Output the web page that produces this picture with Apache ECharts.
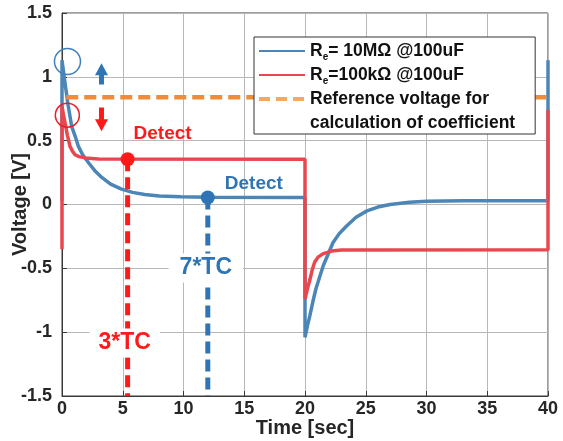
<!DOCTYPE html>
<html>
<head>
<meta charset="utf-8">
<script src="https://cdn.jsdelivr.net/npm/echarts@6/dist/echarts.min.js"></script>
<style>
  html, body { margin: 0; padding: 0; background: #fff; }
  #chart { width: 563px; height: 441px; }
</style>
</head>
<body>
<div id="chart"></div>
<script>
// Re = 10MΩ curve (time in sec, voltage in V)
const blueTime = [0, 0, 0.25, 0.5, 0.8, 1.1, 1.35, 1.7, 2.2, 2.7, 3.3, 4, 4.9, 5.8, 6.8, 8, 9.8, 12, 20,
  20, 20.2, 20.4, 20.65, 20.9, 21.2, 21.5, 21.9, 22.3, 22.8, 23.4, 24.2, 25.1, 26, 27, 28.6, 30, 33, 40, 40]
const blueVolt = [0.03, 1.13, 0.95, 0.78, 0.61, 0.53, 0.455, 0.39, 0.325, 0.265, 0.21, 0.16, 0.12, 0.095, 0.078, 0.066, 0.06, 0.056, 0.055,
  -1.04, -0.95, -0.87, -0.76, -0.66, -0.57, -0.48, -0.39, -0.3, -0.23, -0.17, -0.1, -0.05, -0.02, 0.0, 0.018, 0.025, 0.03, 0.03, 1.13]

// Re = 100kΩ curve
const redTime = [0, 0, 0.12, 0.25, 0.45, 0.66, 0.85, 1.07, 1.4, 1.9, 3, 20,
  20, 20.1, 20.2, 20.4, 20.6, 20.8, 21.1, 21.5, 22.2, 23, 40, 40]
const redVolt = [-0.35, 0.77, 0.7, 0.64, 0.54, 0.455, 0.42, 0.39, 0.375, 0.365, 0.357, 0.355,
  -0.74, -0.7, -0.66, -0.59, -0.51, -0.45, -0.41, -0.385, -0.365, -0.357, -0.355, 0.74]

// reference voltage line
const refTime = [0.35, 39.9]
const refVolt = [0.84, 0.84]

// detect points
const redDetect = [5.4, 0.355]
const blueDetect = [12.0, 0.055]
const redTcLabel = [5.4, -1.07]
const blueTcLabel = [12.0, -0.49]

// circles and arrows
const blueCircle = [0.45, 1.12]
const redCircle = [0.44, 0.70]
const upArrow = [[3.25, 0.94], [3.25, 1.06]]
const downArrow = [[3.25, 0.76], [3.25, 0.62]]

const xTicks = { min: 0, max: 40, interval: 5 }
const yTicks = { min: -1.5, max: 1.5, interval: 0.5 }

const zip = (a, b) => a.map((v, i) => [v, b[i]])

const FONT = '"Liberation Sans", Arial, sans-serif'
const BLUE = '#4b86b7'
const RED = '#e8474f'
const DBLUE = '#2f74b5'
const DRED = '#ff1a1a'
const ORANGE = '#f08c35'

const names = {
  blue: 'Re= 10MΩ @100uF',
  red: 'Re=100kΩ @100uF',
  ref: 'Reference voltage for',
  ref2: 'calculation of coefficient',
}

const chart = echarts.init(document.getElementById('chart'))

const option = {
  animation: false,
  backgroundColor: '#fff',
  grid: {
    left: 62,
    right: 15,
    top: 13,
    bottom: 45,
    containLabel: false,
    outerBoundsMode: 'none',
    show: true,
    borderColor: '#3a3a3a',
    borderWidth: 1,
  },
  legend: {
    orient: 'vertical',
    left: 254,
    top: 37,
    padding: [3, 20, 0, 3],
    itemGap: 2,
    itemWidth: 46,
    itemHeight: 14,
    backgroundColor: '#fff',
    borderColor: '#333',
    borderWidth: 1,
    borderRadius: 0,
    itemStyle: { opacity: 0 },
    data: [
      { name: names.blue },
      { name: names.red },
      { name: names.ref, lineStyle: { color: '#f7a85a', type: [11, 6], width: 4 } },
      { name: names.ref2, lineStyle: { opacity: 0 } },
    ],
    formatter: (name) => {
      if (name === names.blue) return '{b|R}{s|e}{b|= 10MΩ @100uF}'
      if (name === names.red) return '{b|R}{s|e}{b|=100kΩ @100uF}'
      return name
    },
    textStyle: {
      fontFamily: FONT,
      fontWeight: 'bold',
      fontSize: 17.5,
      lineHeight: 22,
      color: '#111',
      rich: {
        b: { fontFamily: FONT, fontWeight: 'bold', fontSize: 17.5, color: '#111' },
        s: { fontFamily: FONT, fontWeight: 'bold', fontSize: 10, color: '#111', verticalAlign: 'bottom', padding: [8, 0, 0, 0] },
      },
    },
  },
  xAxis: {
    type: 'value',
    ...xTicks,
    name: 'Time [sec]',
    nameLocation: 'middle',
    nameGap: 22,
    nameMoveOverlap: false,
    nameTextStyle: { fontFamily: FONT, fontWeight: 'bold', fontSize: 20, color: '#262626' },
    axisLine: { onZero: false, lineStyle: { color: '#3a3a3a' } },
    axisTick: { inside: true, length: 5, lineStyle: { color: '#3a3a3a' } },
    axisLabel: { fontFamily: FONT, fontWeight: 'bold', fontSize: 18, color: '#262626', margin: 4 },
    splitLine: { lineStyle: { color: '#b8b8b8', width: 1 } },
  },
  yAxis: {
    type: 'value',
    ...yTicks,
    name: 'Voltage [V]',
    nameLocation: 'middle',
    nameGap: 32,
    nameMoveOverlap: false,
    nameTextStyle: { fontFamily: FONT, fontWeight: 'bold', fontSize: 20, color: '#262626' },
    axisLine: { onZero: false, lineStyle: { color: '#3a3a3a' } },
    axisTick: { inside: true, length: 5, lineStyle: { color: '#3a3a3a' } },
    axisLabel: { fontFamily: FONT, fontWeight: 'bold', fontSize: 18, color: '#262626', margin: 10 },
    splitLine: { lineStyle: { color: '#b8b8b8', width: 1 } },
  },
  series: [
    {
      name: names.blue,
      type: 'line',
      data: zip(blueTime, blueVolt),
      symbol: 'none',
      lineStyle: { color: BLUE, width: 3.5 },
      itemStyle: { color: BLUE },
      z: 2,
    },
    {
      name: names.red,
      type: 'line',
      data: zip(redTime, redVolt),
      symbol: 'none',
      lineStyle: { color: RED, width: 3.5 },
      itemStyle: { color: RED },
      z: 3,
    },
    {
      name: names.ref,
      type: 'line',
      data: zip(refTime, refVolt),
      symbol: 'none',
      lineStyle: { color: ORANGE, width: 4.5, type: [12, 6] },
      itemStyle: { color: ORANGE },
      z: 3,
    },
    // second legend line of the reference entry, draws nothing
    {
      name: names.ref2,
      type: 'line',
      data: [],
      symbol: 'none',
      lineStyle: { opacity: 0 },
    },
    // dashed detect lines
    {
      type: 'line',
      data: [redDetect, [redDetect[0], yTicks.min]],
      symbol: 'none',
      lineStyle: { color: DRED, width: 5, type: [12, 6] },
      z: 4,
    },
    {
      type: 'line',
      data: [blueDetect, [blueDetect[0], yTicks.min]],
      symbol: 'none',
      lineStyle: { color: DBLUE, width: 5, type: [12, 6] },
      z: 4,
    },
    // detect dots
    {
      type: 'scatter',
      data: [redDetect],
      symbolSize: 14,
      itemStyle: { color: DRED, opacity: 1 },
      label: {
        show: true, position: 'inside', offset: [35, -25], formatter: 'Detect',
        fontFamily: FONT, fontWeight: 'bold', fontSize: 19, color: DRED,
      },
      z: 6,
    },
    {
      type: 'scatter',
      data: [blueDetect],
      symbolSize: 14,
      itemStyle: { color: DBLUE, opacity: 1 },
      label: {
        show: true, position: 'inside', offset: [46, -14], formatter: 'Detect',
        fontFamily: FONT, fontWeight: 'bold', fontSize: 19, color: DBLUE,
      },
      z: 6,
    },
    // TC labels
    {
      type: 'scatter',
      data: [redTcLabel],
      symbolSize: 1,
      itemStyle: { color: 'rgba(0,0,0,0)', opacity: 1 },
      label: {
        show: true, position: 'inside', offset: [-3, 2], formatter: '3*TC',
        fontFamily: FONT, fontWeight: 'bold', fontSize: 23, color: DRED,
        backgroundColor: '#fff', padding: [3, 9],
      },
      z: 6,
    },
    {
      type: 'scatter',
      data: [blueTcLabel],
      symbolSize: 1,
      itemStyle: { color: 'rgba(0,0,0,0)', opacity: 1 },
      label: {
        show: true, position: 'inside', offset: [-2, 1], formatter: '7*TC',
        fontFamily: FONT, fontWeight: 'bold', fontSize: 23, color: DBLUE,
        backgroundColor: '#fff', padding: [3, 11],
      },
      z: 6,
    },
    // circles
    {
      type: 'scatter',
      data: [blueCircle],
      symbolSize: 26,
      itemStyle: { color: 'rgba(0,0,0,0)', borderColor: '#3f7fbf', borderWidth: 1.5, opacity: 1 },
      z: 7,
    },
    {
      type: 'scatter',
      data: [redCircle],
      symbolSize: 24,
      itemStyle: { color: 'rgba(0,0,0,0)', borderColor: '#e8202a', borderWidth: 1.5, opacity: 1 },
      z: 7,
    },
    // arrows
    {
      type: 'line',
      data: [{ value: upArrow[0], symbol: 'none' }, { value: upArrow[1], symbol: 'triangle', symbolSize: [13, 12] }],
      showSymbol: true,
      lineStyle: { color: DBLUE, width: 5 },
      itemStyle: { color: DBLUE },
      z: 6,
    },
    {
      type: 'line',
      data: [{ value: downArrow[0], symbol: 'none' }, { value: downArrow[1], symbol: 'triangle', symbolRotate: 180, symbolSize: [13, 12] }],
      showSymbol: true,
      lineStyle: { color: DRED, width: 5 },
      itemStyle: { color: DRED },
      z: 6,
    },
  ],
}

chart.setOption(option)
window.addEventListener('resize', () => chart.resize())
</script>
</body>
</html>
